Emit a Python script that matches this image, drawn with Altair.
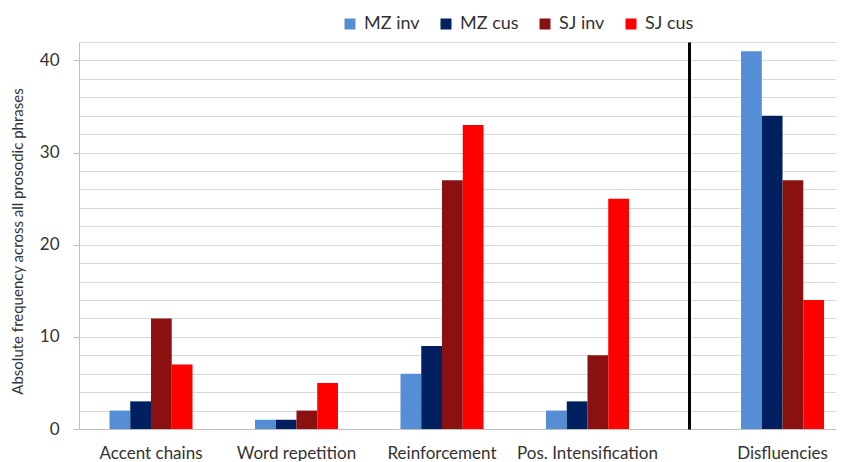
import altair as alt
import pandas as pd

categories = ["Accent chains", "Word repetition", "Reinforcement", "Pos. Intensification", "Disfluencies"]
series = ["MZ inv", "MZ cus", "SJ inv", "SJ cus"]
mz_inv = [2, 1, 6, 2, 41]
mz_cus = [3, 1, 9, 3, 34]
sj_inv = [12, 2, 27, 8, 27]
sj_cus = [7, 5, 33, 25, 14]
colors = ["#558ED5", "#002060", "#8B1111", "#FF0000"]
y_ticks = list(range(0, 43, 2))

rows = []
for i, c in enumerate(categories):
    for s, vals in zip(series, [mz_inv, mz_cus, sj_inv, sj_cus]):
        rows.append({"category": c, "series": s, "value": vals[i]})
df = pd.DataFrame(rows)
left_df = df[df["category"].isin(categories[:4])]
right_df = df[df["category"] == categories[4]]

FONT = "Lato"
TXT = "#333333"

color = alt.Color(
    "series:N",
    scale=alt.Scale(domain=series, range=colors),
    sort=series,
    legend=alt.Legend(
        title=None, orient="none", direction="horizontal",
        legendX=262, legendY=-27,
        symbolType="square", symbolSize=121, symbolStrokeWidth=0,
        labelFont=FONT, labelFontSize=18, labelColor=TXT,
        labelOffset=5, columnPadding=17,
    ),
)

y_scale = alt.Scale(domain=[0, 42], nice=False)

left = alt.Chart(left_df).mark_bar().encode(
    x=alt.X(
        "category:N", sort=categories[:4], title=None,
        scale=alt.Scale(paddingInner=0.4296, paddingOuter=0.311, align=0.337),
        axis=alt.Axis(labelAngle=0, ticks=False, labelPadding=16, domainColor="#BFBFBF",
                      labelFont=FONT, labelFontSize=17, labelColor=TXT),
    ),
    xOffset=alt.XOffset("series:N", sort=series, scale=alt.Scale(paddingInner=0, paddingOuter=0)),
    y=alt.Y(
        "value:Q", scale=y_scale,
        title="Absolute frequency across all prosodic phrases",
        axis=alt.Axis(
            values=y_ticks,
            labelExpr="datum.value % 10 === 0 ? datum.label : ''",
            tickOpacity={"condition": {"test": "datum.value % 10 === 0", "value": 1}, "value": 0},
            tickSize=6, tickColor="#BFBFBF", labelPadding=14,
            domainColor="#BFBFBF", gridColor="#D9D9D9",
            labelFont=FONT, labelFontSize=17, labelColor=TXT,
            titleFont=FONT, titleFontSize=15, titleFontWeight="normal", titleColor=TXT,
            titlePadding=14, titleY=199,
        ),
    ),
    color=color,
).properties(width=610, height=387)

right = alt.Chart(right_df).mark_bar().encode(
    x=alt.X(
        "category:N", title=None,
        scale=alt.Scale(paddingInner=0, paddingOuter=0.386, align=0.8125),
        axis=alt.Axis(labelAngle=0, ticks=False, labelPadding=16, domainColor="#BFBFBF",
                      labelFont=FONT, labelFontSize=17, labelColor=TXT),
    ),
    xOffset=alt.XOffset("series:N", sort=series, scale=alt.Scale(paddingInner=0, paddingOuter=0)),
    y=alt.Y(
        "value:Q", scale=y_scale, title=None,
        axis=alt.Axis(
            values=y_ticks, labels=False, ticks=False,
            domainColor="#000000", domainWidth=3, gridColor="#D9D9D9",
        ),
    ),
    color=color,
).properties(width=147, height=387)

chart = alt.hconcat(left, right, spacing=0).properties(
    padding={"left": 2, "top": 7, "right": 0, "bottom": 0}
).configure_view(stroke=None)

chart.save("out.html", embed_options={"renderer": "svg", "actions": False})
